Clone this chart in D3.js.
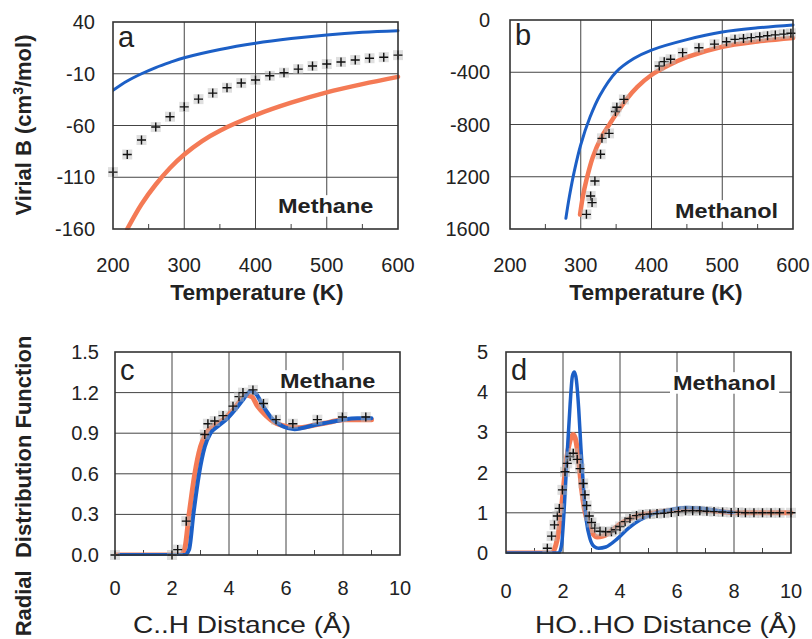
<!DOCTYPE html>
<html>
<head>
<meta charset="utf-8">
<script src="https://cdn.jsdelivr.net/npm/d3@7"></script>
<style>
body { margin: 0; background: #fff; }
text { font-family: Arial, "Liberation Sans", Helvetica, sans-serif; fill: #222; }
</style>
</head>
<body>
<svg id="fig" width="812" height="639"></svg>
<script>
// ---- panel a : methane virial B ----
var tempTicks = [200, 300, 400, 500, 600];
var tempMinor = [250, 350, 450, 550];
var aTicks = [40, -10, -60, -110, -160];
var aExpT = [200,220,240,260,280,300,320,340,360,380,400,420,440,460,480,500,520,540,560,580,600];
var aExp  = [-105,-88,-74,-61.5,-51.5,-42,-34.5,-28.7,-23.5,-19,-16,-12,-9,-5.5,-2.5,-0.6,1.4,3.3,5,6,8];
var aBlueT = [200,220,240,260,280,300,350,400,450,500,550,600];
var aBlue  = [-26,-17,-10,-4,1,5.5,13.5,19.5,24,27.5,30,31.5];
var aRedT = [220,240,260,280,300,325,350,400,450,500,550,600];
var aRed  = [-160,-136,-117,-101,-88,-75,-65,-50,-38,-28,-20,-13];

// ---- panel b : methanol virial B ----
var bTicks = [0, -400, -800, -1200, -1600];
var bTickLabels = ["0", "-400", "-800", "1200", "1600"];
var bExpT = [308,314,316,320,328,330,340,349,351,361,411,418,427,444,467,489,506,518,530,541,553,564,575,587,597];
var bExp  = [-1488,-1347,-1398,-1233,-1028,-906,-868,-700,-668,-608,-352,-319,-300,-250,-212,-185,-166,-148,-142,-135,-128,-120,-114,-108,-102];
var bBlueT = [279,284,291,300,313,327,350,375,400,450,500,550,600];
var bBlue  = [-1518,-1350,-1155,-955,-745,-578,-398,-295,-230,-150,-92,-60,-38];
var bRedT = [299,303,308,317,329,341,350,365,380,400,425,450,500,550,600];
var bRed  = [-1490,-1350,-1225,-1050,-900,-795,-720,-605,-512,-421,-345,-285,-205,-165,-138];

// ---- panel c : methane C..H rdf ----
var distTicks = [0, 2, 4, 6, 8, 10];
var distMinor = [1, 3, 5, 7, 9];
var cTicks = [0, 0.3, 0.6, 0.9, 1.2, 1.5];
var cExpX = [0,2.0,2.2,2.5,3.15,3.26,3.5,3.79,4.14,4.35,4.49,4.84,5.21,5.65,6.24,7.1,7.98,8.8];
var cExp  = [0,0,0.04,0.25,0.89,0.97,0.99,1.03,1.1,1.17,1.2,1.22,1.12,1.0,0.97,1.0,1.02,1.02];
var cRedX = [0,2.3,2.45,2.6,2.8,3.0,3.2,3.5,3.8,4.1,4.4,4.6,4.8,5.0,5.3,5.6,6.0,6.4,7.0,7.5,8.0,8.5,9.0];
var cRed  = [0,0,0.05,0.3,0.6,0.8,0.9,0.96,1.0,1.06,1.14,1.18,1.17,1.1,1.03,0.98,0.95,0.94,0.96,0.98,1.0,1.0,1.0];
var cBlueX = [0.15,2.45,2.6,2.75,2.95,3.15,3.35,3.6,3.9,4.2,4.5,4.75,4.95,5.2,5.5,5.9,6.3,7.0,7.5,8.0,8.5,9.0];
var cBlue  = [0,0,0.04,0.3,0.6,0.8,0.9,0.95,1.0,1.07,1.15,1.21,1.19,1.1,1.01,0.95,0.93,0.96,0.98,1.0,1.01,1.01];

// ---- panel d : methanol HO..HO rdf ----
var dTicks = [0, 1, 2, 3, 4, 5];
var dExpX = [1.45,1.6,1.7,1.8,1.87,1.98,2.07,2.15,2.25,2.36,2.5,2.6,2.71,2.77,2.83,2.92,3.0,3.12,3.3,3.5,3.7,3.85,4.0,4.18,4.35,4.58,4.8,5.05,5.3,5.55,5.8,6.05,6.3,6.55,6.8,7.05,7.3,7.6,7.9,8.15,8.4,8.7,9.0,9.3,9.6,10];
var dExp  = [0.12,0.42,0.7,0.92,1.11,1.57,2.02,2.23,2.4,2.48,2.33,2.1,1.73,1.45,1.18,0.92,0.76,0.62,0.54,0.53,0.53,0.58,0.66,0.78,0.86,0.93,0.96,0.97,0.98,0.99,1.01,1.03,1.05,1.05,1.05,1.04,1.03,1.02,1.01,1.01,1.0,1.0,1.0,1.0,1.0,1.0];
var dRedX = [0,1.6,1.75,1.9,2.0,2.1,2.2,2.3,2.36,2.45,2.55,2.65,2.75,2.9,3.05,3.2,3.4,3.7,4.0,4.5,5.0,5.5,6.0,6.5,7.0,7.5,8.0,9.0,10];
var dRed  = [0,0,0.2,0.8,1.5,2.2,2.65,2.9,2.95,2.8,2.3,1.6,1.1,0.7,0.48,0.4,0.42,0.55,0.72,0.9,0.98,1.03,1.07,1.1,1.07,1.03,1.0,1.0,1.0];
var dBlueX = [0,1.85,1.95,2.05,2.15,2.25,2.33,2.4,2.47,2.55,2.63,2.72,2.82,2.95,3.1,3.25,3.5,3.9,4.3,4.7,5.2,5.8,6.3,6.8,7.3,7.8,8.0];
var dBlue  = [0,0,0.2,1.2,2.5,3.7,4.4,4.5,4.3,3.6,2.6,1.6,0.8,0.35,0.16,0.12,0.15,0.35,0.62,0.82,0.98,1.08,1.13,1.12,1.07,1.02,1.01];

var BLUE = "#1c5fc6", RED = "#f47a55";
var svg = d3.select("#fig");

function zip(xs, ys) { return xs.map(function (x, i) { return [x, ys[i]]; }); }

// text that is a bit wider than the font gives (the source figure was stretched sideways)
function wideText(sel, x, y, sx, str) {
    return sel.append("text")
        .attr("transform", "translate(" + x + "," + y + ") scale(" + sx + ",1)")
        .text(str);
}

function drawPanel(o) {
    var x = d3.scaleLinear().domain(o.xDomain).range([o.left, o.right]);
    var y = d3.scaleLinear().domain(o.yDomain).range([o.bottom, o.top]);
    var g = svg.append("g");
    var clipId = "clip" + o.letter;

    g.append("clipPath").attr("id", clipId).append("rect")
        .attr("x", o.left).attr("y", o.top - 3)
        .attr("width", o.right - o.left + 3).attr("height", o.bottom - o.top + 4);

    // grid
    g.selectAll(".vg").data(o.xTicks.slice(1, -1)).enter().append("line")
        .attr("x1", x).attr("x2", x).attr("y1", o.top).attr("y2", o.bottom)
        .attr("stroke", "#444").attr("stroke-width", 1);
    g.selectAll(".hg").data(o.yTicks.filter(function (d) {
        return d !== o.yDomain[0] && d !== o.yDomain[1]; })).enter().append("line")
        .attr("x1", o.left).attr("x2", o.right).attr("y1", y).attr("y2", y)
        .attr("stroke", "#444").attr("stroke-width", 1);
    // minor ticks on bottom
    g.selectAll(".mt").data(o.minor).enter().append("line")
        .attr("x1", x).attr("x2", x).attr("y1", o.bottom).attr("y2", o.bottom - 5)
        .attr("stroke", "#444").attr("stroke-width", 1);

    // label with white background
    var nm = wideText(g, o.nameX, o.nameY, 1.12, o.name)
        .attr("font-size", 21).attr("font-weight", "bold");
    var bb = nm.node().getBBox();
    g.insert("rect", "text").attr("x", o.nameX - 3).attr("y", o.nameY + bb.y + 1)
        .attr("width", bb.width * 1.12 + 6).attr("height", bb.height - 2).attr("fill", "#fff");

    var line = d3.line().x(function (d) { return x(d[0]); })
        .y(function (d) { return y(d[1]); }).curve(o.curve);
    var lines = g.append("g").attr("clip-path", "url(#" + clipId + ")");

    function drawSeries(xs, ys, color, w) {
        lines.append("path").datum(zip(xs, ys)).attr("d", line)
            .attr("fill", "none").attr("stroke", color).attr("stroke-width", w)
            .attr("stroke-linejoin", "round").attr("stroke-linecap", "round");
    }
    drawSeries(o.redX, o.red, RED, o.redW);
    drawSeries(o.blueX, o.blue, BLUE, o.blueW);

    // experimental crosses
    var pts = g.append("g").selectAll("g").data(zip(o.expX, o.exp)).enter().append("g")
        .attr("transform", function (d) { return "translate(" + x(d[0]) + "," + y(d[1]) + ")"; });
    pts.append("rect").attr("x", -5).attr("y", -5).attr("width", 10).attr("height", 10)
        .attr("fill", "#b8b8b8").attr("opacity", 0.45);
    pts.append("path").attr("d", "M-4.5,0H4.5M0,-4.5V4.5").attr("stroke", "#111").attr("stroke-width", 1.4);

    // frame
    g.append("rect").attr("x", o.left).attr("y", o.top)
        .attr("width", o.right - o.left).attr("height", o.bottom - o.top)
        .attr("fill", "none").attr("stroke", "#333").attr("stroke-width", 1.6);

    // tick labels
    g.selectAll(".yl").data(o.yTicks).enter().append("text")
        .attr("x", o.left - o.yLabGap).attr("y", function (d) { return y(d) + 7; })
        .attr("text-anchor", "end").attr("font-size", 20)
        .text(function (d, i) { return o.yLabels ? o.yLabels[i] : o.yFmt(d); });
    g.selectAll(".xl").data(o.xTicks).enter().append("text")
        .attr("x", x).attr("y", o.xLabY)
        .attr("text-anchor", "middle").attr("font-size", 20)
        .text(function (d) { return d; });

    wideText(g, o.xTitleX, o.xTitleY, o.xTitleScale, o.xTitle)
        .attr("text-anchor", "middle").attr("font-size", o.xTitleSize)
        .attr("font-weight", o.xTitleWeight);

    g.append("text").attr("x", o.left + 5).attr("y", o.top + o.letterDy)
        .attr("font-size", 29).text(o.letter);
}

drawPanel({
    letter: "a", letterDy: 25, name: "Methane", nameX: 278, nameY: 213,
    xDomain: [200, 600], yDomain: [-160, 40], left: 113, right: 398, top: 22, bottom: 229,
    xTicks: tempTicks, minor: tempMinor, yTicks: aTicks, yFmt: function (d) { return d; }, yLabGap: 18,
    xLabY: 272, xTitle: "Temperature (K)", xTitleX: 257, xTitleY: 300, xTitleSize: 22,
    xTitleWeight: "bold", xTitleScale: 1.03,
    expX: aExpT, exp: aExp, redX: aRedT, red: aRed, blueX: aBlueT, blue: aBlue,
    redW: 4.5, blueW: 3, curve: d3.curveCatmullRom
});

drawPanel({
    letter: "b", letterDy: 25, name: "Methanol", nameX: 675, nameY: 218,
    xDomain: [200, 600], yDomain: [-1600, 0], left: 510, right: 793, top: 20, bottom: 229,
    xTicks: tempTicks, minor: tempMinor, yTicks: bTicks, yLabels: bTickLabels, yLabGap: 20,
    xLabY: 272, xTitle: "Temperature (K)", xTitleX: 656, xTitleY: 300, xTitleSize: 22,
    xTitleWeight: "bold", xTitleScale: 1.03,
    expX: bExpT, exp: bExp, redX: bRedT, red: bRed, blueX: bBlueT, blue: bBlue,
    redW: 4.5, blueW: 3, curve: d3.curveCatmullRom
});

drawPanel({
    letter: "c", letterDy: 28, name: "Methane", nameX: 280, nameY: 388,
    xDomain: [0, 10], yDomain: [0, 1.5], left: 115, right: 400, top: 352, bottom: 555,
    xTicks: distTicks, minor: distMinor, yTicks: cTicks, yFmt: d3.format(".1f"), yLabGap: 16,
    xLabY: 595, xTitle: "C..H Distance (Å)", xTitleX: 242, xTitleY: 633, xTitleSize: 23,
    xTitleWeight: "normal", xTitleScale: 1.22,
    expX: cExpX, exp: cExp, redX: cRedX, red: cRed, blueX: cBlueX, blue: cBlue,
    redW: 5, blueW: 4, curve: d3.curveMonotoneX
});

drawPanel({
    letter: "d", letterDy: 28, name: "Methanol", nameX: 673, nameY: 390,
    xDomain: [0, 10], yDomain: [0, 5], left: 506, right: 791, top: 352, bottom: 553,
    xTicks: distTicks, minor: distMinor, yTicks: dTicks, yFmt: function (d) { return d; }, yLabGap: 18,
    xLabY: 598, xTitle: "HO..HO Distance (Å)", xTitleX: 666, xTitleY: 633, xTitleSize: 23,
    xTitleWeight: "normal", xTitleScale: 1.22,
    expX: dExpX, exp: dExp, redX: dRedX, red: dRed, blueX: dBlueX, blue: dBlue,
    redW: 5, blueW: 3.5, curve: d3.curveMonotoneX
});

// rotated y titles
var vt = svg.append("text").attr("transform", "translate(31,125) rotate(-90)")
    .attr("text-anchor", "middle").attr("font-size", 22).attr("font-weight", "bold");
vt.append("tspan").text("Virial B (cm");
vt.append("tspan").attr("font-size", 14).attr("dy", -8).text("3");
vt.append("tspan").attr("dy", 8).text("/mol)");

svg.append("text").attr("transform", "translate(31,486) rotate(-90)")
    .attr("text-anchor", "middle").attr("font-size", 22).attr("font-weight", "bold")
    .style("white-space", "pre").text("Radial  Distribution Function");
</script>
</body>
</html>
